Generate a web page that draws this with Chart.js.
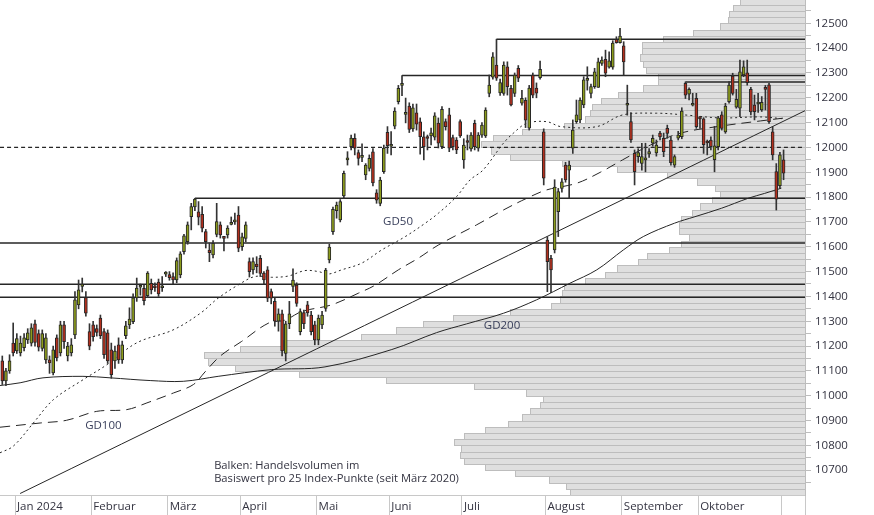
<!DOCTYPE html>
<html>
<head>
<meta charset="utf-8">
<script src="https://cdn.jsdelivr.net/npm/chart.js@4.4.1/dist/chart.umd.min.js"></script>
<style>
  body { margin: 0; background: #fff; }
  canvas { display: block; }
</style>
</head>
<body>
<canvas id="chart" width="874" height="515"></canvas>
<script>
// DATA (trading day index 0 = first trading day of Jan 2024)
const firstDay = -4;

const opens = [
  11140,11060,11100,11212,11180,11172,11193,11225,11212,11290,
  11250,11190,11144,11144,11092,11233,11172,11285,11160,11172,
  11245,11366,11440,11395,11258,11285,11270,11313,11258,11253,
  11185,11140,11205,11144,11242,11285,11298,11394,11437,11433,
  11403,11453,11440,11458,11435,11490,11488,11480,11466,11487,
  11580,11620,11721,11760,11741,11731,11661,11587,11567,11650,
  11688,11636,11648,11690,11700,11728,11600,11634,11540,11507,
  11530,11553,11494,11507,11419,11380,11300,11330,11170,11290,
  11440,11446,11258,11335,11366,11325,11285,11225,11285,11352,
  11547,11661,11745,11708,11805,11950,12003,12037,11979,11960,
  11889,11916,11982,11817,11775,11902,12061,12005,12086,12184,
  12250,12133,12167,12075,12139,12103,12043,12040,12046,12041,
  12098,12003,12104,12131,12040,12030,12104,11950,12022,11994,
  12097,11997,12050,12046,12218,12283,12332,12220,12218,12325,
  12238,12218,12319,12178,12190,12078,12292,12239,12281,12063,
  11627,11553,11587,11741,11835,11929,11909,11997,12104,12111,
  12171,12270,12218,12245,12242,12339,12355,12323,12323,12436,
  12422,12409,12170,12104,11976,11963,11936,11950,11974,12017,
  11978,12058,12037,12077,12030,11929,12037,12043,12258,12215,
  12170,12198,12118,12115,12020,12030,11951,12003,12131,12063,
  12184,12288,12162,12158,12292,12301,12234,12171,12175,12151,
  12236,12252,12063,11903,11846,11950
];
const highs = [
  11160,11110,11165,11293,11250,11240,11250,11270,11290,11305,
  11265,11265,11250,11160,11200,11245,11300,11300,11215,11230,
  11419,11466,11474,11419,11290,11300,11285,11325,11270,11265,
  11212,11200,11233,11220,11300,11354,11410,11474,11450,11445,
  11500,11470,11455,11470,11480,11500,11500,11495,11555,11580,
  11650,11700,11775,11795,11782,11762,11670,11615,11625,11775,
  11700,11640,11685,11720,11736,11762,11655,11700,11555,11555,
  11560,11565,11500,11520,11430,11395,11350,11345,11300,11380,
  11511,11455,11350,11345,11380,11340,11300,11325,11340,11513,
  11610,11760,11780,11790,11905,11983,12050,12055,11990,12015,
  11935,11970,11995,11830,11880,12010,12084,12064,12160,12250,
  12290,12199,12180,12175,12175,12119,12063,12050,12078,12140,
  12119,12165,12115,12158,12050,12040,12111,12035,12050,12060,
  12110,12060,12100,12160,12292,12382,12436,12275,12345,12345,
  12250,12300,12330,12230,12200,12250,12300,12260,12348,12075,
  11640,11565,11870,11835,11875,11940,11945,12111,12191,12200,
  12285,12325,12255,12319,12360,12365,12392,12385,12430,12446,
  12480,12426,12251,12140,11990,11995,12017,12017,11995,12050,
  12030,12065,12058,12090,12043,11970,12065,12160,12264,12240,
  12218,12218,12125,12120,12030,12043,12085,12125,12144,12178,
  12265,12299,12234,12352,12349,12352,12242,12211,12218,12205,
  12250,12258,12084,11935,11980,11990
];
const lows = [
  11045,11040,11090,11160,11170,11160,11180,11210,11200,11200,
  11180,11180,11130,11090,11084,11140,11160,11190,11140,11160,
  11230,11350,11418,11320,11185,11220,11240,11230,11150,11130,
  11070,11110,11130,11130,11230,11270,11290,11380,11405,11366,
  11395,11410,11420,11400,11420,11480,11465,11450,11455,11475,
  11570,11610,11668,11745,11688,11660,11595,11540,11555,11640,
  11635,11583,11635,11688,11690,11580,11585,11620,11478,11490,
  11495,11480,11450,11379,11370,11280,11260,11160,11140,11270,
  11419,11360,11245,11270,11320,11245,11205,11205,11270,11340,
  11535,11650,11715,11700,11795,11929,11990,11970,11929,11943,
  11870,11905,11845,11775,11765,11895,11976,11970,12075,12175,
  12209,12099,12060,12065,12070,11973,11950,11990,12010,12030,
  11998,11995,12070,11983,11990,11975,12040,11916,11990,11985,
  11990,11985,12040,12040,12204,12275,12270,12210,12210,12211,
  12167,12205,12265,12170,12080,12070,12200,12200,12275,11849,
  11419,11415,11575,11641,11820,11860,11795,11976,12097,12100,
  12160,12231,12200,12238,12242,12330,12285,12319,12315,12420,
  12420,12292,12130,12020,11849,11940,11909,11902,11960,12005,
  11965,12030,11963,12037,11929,11920,12030,12035,12197,12191,
  12167,12077,12077,11976,11970,11990,11902,11990,12070,12057,
  12178,12211,12158,12124,12285,12251,12131,12111,12141,12145,
  12151,12097,11950,11748,11835,11870
];
const closes = [
  11060,11100,11140,11172,11230,11212,11233,11253,11273,11215,
  11195,11250,11233,11132,11185,11152,11285,11218,11200,11205,
  11386,11426,11450,11332,11200,11238,11255,11242,11165,11140,
  11085,11180,11144,11205,11281,11309,11394,11434,11440,11383,
  11494,11426,11435,11410,11440,11492,11475,11466,11544,11571,
  11644,11688,11762,11792,11719,11675,11620,11576,11614,11701,
  11648,11634,11675,11695,11703,11594,11640,11688,11500,11540,
  11520,11493,11466,11393,11393,11300,11330,11180,11290,11330,
  11466,11372,11339,11290,11333,11258,11225,11313,11325,11506,
  11599,11751,11768,11782,11896,11952,12038,11997,11956,11963,
  11929,11956,11857,11788,11869,11997,12007,12008,12147,12238,
  12252,12135,12073,12160,12094,12043,12003,12036,12059,12127,
  12017,12154,12084,11997,12003,11990,12046,12010,12020,12050,
  12003,12050,12090,12151,12251,12365,12279,12261,12332,12245,
  12171,12292,12279,12198,12110,12239,12211,12219,12315,11876,
  11540,11507,11840,11822,11862,11869,11929,12070,12131,12191,
  12272,12274,12245,12305,12345,12352,12299,12349,12420,12422,
  12449,12345,12174,12030,11902,11979,11963,11955,11983,12037,
  12010,12042,11983,12057,11939,11963,12050,12147,12211,12234,
  12172,12084,12115,12011,12018,12003,12007,12119,12077,12167,
  12251,12218,12194,12305,12325,12261,12143,12144,12178,12182,
  12234,12104,11970,11792,11970,11896
];

// moving averages, read at day positions
const gd50X = [-4.63,-0.96,4.55,10.06,18.3,24.8,33.0,43.0,50.5,55.4,60.9,65.5,70.1,74.7,79.3,83.0,85.7,89.4,94.9,100.4,106.9,112.4,116.0,121.0,124.7,128.3,133.9,136.6,140.3,145.8,149.7,159.6,166.7,176.1,183.8,193.7,204.7,211.3];
const gd50 = [10770,10797,10890,10984,11065,11125,11213,11265,11332,11393,11446,11480,11477,11482,11504,11500,11490,11507,11534,11587,11641,11695,11735,11802,11869,11909,12017,12057,12097,12104,12084,12084,12131,12138,12131,12119,12123,12115];
const gd100X = [-4.63,6.4,13.7,22.0,30.3,35.8,43.1,48.6,51.8,56.0,61.8,69.2,73.9,78.4,86.6,94.0,98.7,105.0,110.5,116.0,126.5,133.9,140.3,145.8,154.1,160.7,166.7,174.4,182.7,193.7,204.7,211.4];
const gd100 = [10873,10890,10901,10937,10944,10971,11011,11045,11096,11160,11218,11292,11305,11339,11366,11413,11446,11507,11554,11607,11688,11748,11795,11829,11856,11901,11950,12010,12058,12086,12107,12119];
const gd200X = [-4.63,0.9,7.2,18.2,25.7,36.7,45.8,55.4,70.0,84.8,103.2,115.5,123.7,133.9,143.0,152.2,159.6,166.9,172.4,181.0,186.6,193.9,201.2,205.8,210.4];
const gd200 = [11041,11052,11072,11078,11072,11061,11058,11078,11105,11116,11186,11254,11289,11332,11386,11453,11507,11587,11641,11695,11721,11755,11795,11815,11836];

// trend line end points
const trendX = [0.9, 216.9];
const trendY = [10606, 12148];

// horizontal levels across the whole chart, and levels starting at a high
const levelLines = [11615, 11449, 11397];
const stepLevels = [11795, 12290, 12436, 12264];
const stepStart = [49, 106, 132, 184];
const dashedLevel = 12000;

// volume profile: 25 point bins from 10600, relative volume
const volFirst = 10600;
const volStep = 25;
const volAmount = [
  29.2,29.7,31.8,36.0,39.7,42.3,42.9,42.7,43.6,42.4,
  39.7,36.9,35.2,34.1,32.9,32.5,34.7,41.1,52.1,62.8,
  70.8,74.1,74.7,70.2,64.8,55.1,50.8,47.4,43.7,36.6,
  31.5,30.4,30.2,30.0,27.3,24.8,23.4,20.7,19.6,16.9,
  15.4,14.4,15.6,15.6,15.4,14.0,13.1,11.6,10.6,11.2,
  13.4,17.1,23.3,30.2,36.6,39.0,40.2,38.8,35.1,30.0,
  27.3,26.7,26.5,25.4,23.2,20.1,18.2,18.2,19.7,20.1,
  20.5,20.3,20.2,17.6,13.9,10.5,9.6,9.4,9.0,8.1
];

// axes
const monthTicks = [-0.5, 20.5, 41.5, 61.5, 82.5, 102.5, 122.5, 145.5, 166.5, 187.5, 210.5];
const monthLabels = ['Jan 2024', 'Februar', 'März', 'April', 'Mai', 'Juni', 'Juli', 'August', 'September', 'Oktober', ''];
const xMin = -4.63, xMax = 216.9;
const yMin = 10600, yMax = 12594;

/* -------------------------
   BUILD DATASETS
--------------------------*/

const days = opens.map((_, k) => firstDay + k);
const UP = '#8c9c1c', DOWN = '#b3301e', INK = '#262626';

const wickData = days.map((d, k) => ({ x: d, y: [lows[k], highs[k]] }));
const bodyData = days.map((d, k) => ({ x: d, y: [Math.min(opens[k], closes[k]), Math.max(opens[k], closes[k])] }));
const bodyColors = days.map((_, k) => closes[k] >= opens[k] ? UP : DOWN);

const toPts = (xs, ys) => xs.map((x, k) => ({ x: x, y: ys[k] }));

function lineSet(data, dash, width) {
    return {
        type: 'line', data: data, xAxisID: 'x', yAxisID: 'y',
        borderColor: INK, borderWidth: width, borderDash: dash,
        pointRadius: 0, fill: false, tension: 0.35, order: 2
    };
}

const datasets = [
    {
        type: 'bar', data: wickData, xAxisID: 'x', yAxisID: 'y',
        backgroundColor: '#333', barThickness: 1, grouped: false, order: 1
    },
    {
        type: 'bar', data: bodyData, xAxisID: 'x', yAxisID: 'y',
        backgroundColor: bodyColors, borderColor: INK, borderWidth: 1,
        borderSkipped: false, barThickness: 3, minBarLength: 2, grouped: false, order: 0
    },
    lineSet(toPts(gd50X, gd50), [2, 3], 1),
    lineSet(toPts(gd100X, gd100), [10, 6], 1),
    lineSet(toPts(gd200X, gd200), [], 1),
    lineSet(toPts(trendX, trendY), [], 1),
    lineSet([{ x: xMin, y: dashedLevel }, { x: xMax, y: dashedLevel }], [4, 3], 1.2)
];
levelLines.forEach(v => datasets.push(lineSet([{ x: xMin, y: v }, { x: xMax, y: v }], [], 1.5)));
stepLevels.forEach((v, k) => datasets.push(lineSet([{ x: stepStart[k], y: v }, { x: xMax, y: v }], [], 1.5)));

/* -------------------------
   PLUGINS
--------------------------*/

const volumeProfile = {
    id: 'volumeProfile',
    beforeDatasetsDraw(chart) {
        const { ctx, chartArea, scales } = chart;
        const y = scales.y, xv = scales.xv;
        ctx.save();
        ctx.beginPath();
        ctx.rect(chartArea.left, chartArea.top, chartArea.width, chartArea.height);
        ctx.clip();
        ctx.fillStyle = '#dfdfdf';
        ctx.strokeStyle = '#bdbdbd';
        ctx.lineWidth = 1;
        volAmount.forEach((v, k) => {
            const lo = volFirst + k * volStep;
            const top = Math.round(y.getPixelForValue(lo + volStep));
            const bottom = Math.round(y.getPixelForValue(lo));
            const left = Math.round(xv.getPixelForValue(v));
            const right = Math.round(xv.getPixelForValue(0));
            ctx.fillRect(left, top, right - left, bottom - top);
            ctx.strokeRect(left + 0.5, top + 0.5, right - left, bottom - top);
        });
        ctx.restore();
    }
};

const notes = {
    id: 'notes',
    afterDatasetsDraw(chart) {
        const { ctx, scales } = chart;
        const x = scales.x, y = scales.y;
        ctx.save();
        ctx.font = "11.5px 'Open Sans'";
        ctx.textBaseline = 'middle';
        ctx.fillStyle = '#3a405c';
        ctx.fillText('GD50', x.getPixelForValue(100.8), y.getPixelForValue(11701));
        ctx.fillText('GD100', x.getPixelForValue(18.8), y.getPixelForValue(10880));
        ctx.fillText('GD200', x.getPixelForValue(128.5), y.getPixelForValue(11282));
        ctx.font = "11.2px 'Open Sans'";
        ctx.fillStyle = '#333340';
        ctx.fillText('Balken: Handelsvolumen im', x.getPixelForValue(54.3), y.getPixelForValue(10718));
        ctx.fillText('Basiswert pro 25 Index-Punkte (seit März 2020)', x.getPixelForValue(54.3), y.getPixelForValue(10665));
        ctx.restore();
    }
};

/* -------------------------
   CHART
--------------------------*/

Chart.defaults.font.family = "'Open Sans', sans-serif";

function noPadding(s) {
    s.paddingLeft = 0;
    s.paddingRight = 0;
    s.paddingTop = 0;
    s.paddingBottom = 0;
}

new Chart(document.getElementById('chart'), {
    type: 'bar',
    data: { datasets: datasets },
    options: {
        responsive: false,
        animation: false,
        devicePixelRatio: 1,
        layout: { padding: 0, autoPadding: false },
        plugins: { legend: { display: false }, tooltip: { enabled: false } },
        scales: {
            x: {
                type: 'linear', position: 'bottom', min: xMin, max: xMax, offset: false,
                afterBuildTicks: s => { s.ticks = monthTicks.concat([xMax]).map(v => ({ value: v })); },
                afterFit: s => { s.height = 20; noPadding(s); },
                grid: { offset: false, drawOnChartArea: false, drawTicks: true, tickLength: 20, tickColor: '#c8c8c8' },
                border: { color: '#c8c8c8' },
                ticks: {
                    autoSkip: false, maxRotation: 0, align: 'start', labelOffset: 2, padding: -15,
                    color: '#333340', font: { size: 11.5 },
                    callback: (v, i) => monthLabels[i] || ''
                }
            },
            xv: { type: 'linear', axis: 'x', position: 'top', display: false, offset: false, min: 0, max: 100, reverse: true },
            y: {
                type: 'linear', position: 'right', min: yMin, max: yMax,
                afterBuildTicks: s => {
                    const t = [];
                    for (let v = 10650; v <= 12550; v += 50) t.push({ value: v });
                    s.ticks = t;
                },
                afterFit: s => { s.width = 69; noPadding(s); },
                grid: { drawOnChartArea: false, drawTicks: true, tickLength: 6, tickColor: '#bdbdbd' },
                border: { color: '#bdbdbd' },
                ticks: {
                    autoSkip: false, padding: 4, color: '#333340', font: { size: 11.5 },
                    callback: v => (v % 100 === 0 ? String(v) : '')
                }
            }
        }
    },
    plugins: [volumeProfile, notes]
});
</script>
</body>
</html>
